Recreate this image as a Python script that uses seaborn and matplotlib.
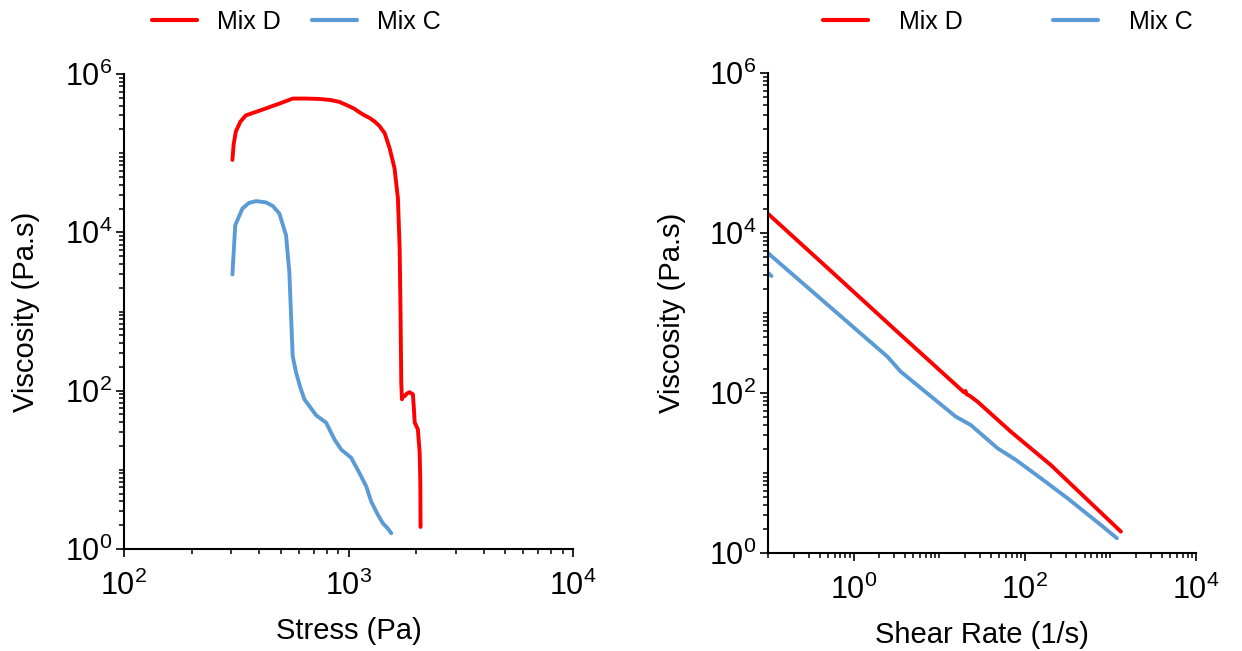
import numpy as np
import pandas as pd
import matplotlib
matplotlib.use("Agg")
import matplotlib.pyplot as plt
import matplotlib.ticker as mticker
import seaborn as sns

# ---- Stress sweep (left) ----
mix_d_stress = [304, 308, 315, 330, 349, 420, 500, 564, 640, 742, 830, 911, 1000,
                1060, 1119, 1180, 1242, 1310, 1374, 1449, 1524, 1603, 1660, 1690, 1706,
                1718, 1730, 1750, 1778, 1820, 1871, 1936, 1955, 1972, 2037, 2075,
                2089, 2094]
mix_d_visc = [82200, 130000, 188000, 250000, 300000, 360000, 430000, 489000, 490000,
              484000, 470000, 444000, 395000, 365000, 328000, 300000, 278000, 250000,
              220000, 179000, 116000, 64600, 26900, 6220, 879, 128, 77.8, 86, 84.9, 92,
              95.5, 89.9, 60, 39.7, 32.4, 16.5, 6.9, 1.9]

mix_c_stress = [304, 313, 337, 360, 387, 429, 460, 492, 527, 545, 564, 584, 610, 636,
                718, 795, 866, 928, 1028, 1119, 1199, 1262, 1352, 1422, 1500, 1551]
mix_c_visc = [2940, 12300, 20000, 23500, 24800, 23900, 21500, 17300, 9180, 3160, 275,
              170, 110, 77.8, 48.8, 39.4, 24.2, 18.0, 14.2, 9.1, 6.2, 3.98, 2.70, 2.12,
              1.8, 1.58]

# ---- Flow curve (right) ----
mix_d_rate = [0.1, 0.5, 3.55, 19.5, 20.3, 21.0, 22.5, 28.0, 68.6, 201, 1327]
mix_d_visc_rate = [17400, 3630, 533, 102, 106, 96, 93, 78.0, 32.9, 12.6, 1.85]

mix_c_rate = [0.11, 0.025, 0.1, 2.48, 3.55, 15.6, 23.3, 48.0, 78.5, 154, 316, 774, 1191]
mix_c_visc_rate = [2900, 12300, 5610, 285, 185, 50.7, 39.9, 20.4, 14.6, 8.6, 4.83,
                   2.24, 1.53]

series_names = ["Mix D", "Mix C"]
colors = {"Mix D": "#FF0000", "Mix C": "#5B9BD5"}

stress_df = pd.concat([
    pd.DataFrame({"x": mix_d_stress, "y": mix_d_visc, "Mix": "Mix D"}),
    pd.DataFrame({"x": mix_c_stress, "y": mix_c_visc, "Mix": "Mix C"}),
], ignore_index=True)
rate_df = pd.concat([
    pd.DataFrame({"x": mix_d_rate, "y": mix_d_visc_rate, "Mix": "Mix D"}),
    pd.DataFrame({"x": mix_c_rate, "y": mix_c_visc_rate, "Mix": "Mix C"}),
], ignore_index=True)

sns.set_theme(style="ticks")
plt.rcParams["font.family"] = ["Liberation Sans", "DejaVu Sans"]
plt.rcParams["mathtext.default"] = "regular"
plt.rcParams["text.color"] = "black"
plt.rcParams["axes.labelcolor"] = "black"
plt.rcParams["xtick.color"] = "black"
plt.rcParams["ytick.color"] = "black"
plt.rcParams["xtick.labelcolor"] = "black"
plt.rcParams["ytick.labelcolor"] = "black"

fig = plt.figure(figsize=(12.42, 6.51), dpi=100)
W, H = 1242, 651
ax1 = fig.add_axes([124 / W, (H - 549) / H, (573 - 124) / W, (549 - 74) / H])
ax2 = fig.add_axes([768 / W, (H - 553) / H, (1196 - 768) / W, (553 - 73) / H])


def style_axis(ax, xlim, xmajor, xlabel, legend_x, textpad, colspace, ylabelpad):
    ax.set_xscale("log")
    ax.set_yscale("log")
    ax.set_xlim(*xlim)
    ax.set_ylim(1, 1e6)
    ax.xaxis.set_major_locator(mticker.FixedLocator(xmajor))
    ax.yaxis.set_major_locator(mticker.FixedLocator([1, 1e2, 1e4, 1e6]))
    ax.xaxis.set_minor_locator(mticker.LogLocator(base=10, subs=np.arange(1, 10), numticks=50))
    ax.yaxis.set_minor_locator(mticker.LogLocator(base=10, subs=np.arange(1, 10), numticks=50))
    ax.xaxis.set_minor_formatter(mticker.NullFormatter())
    ax.yaxis.set_minor_formatter(mticker.NullFormatter())
    ax.xaxis.set_major_formatter(mticker.LogFormatterSciNotation())
    ax.yaxis.set_major_formatter(mticker.LogFormatterSciNotation())
    for side in ("top", "right"):
        ax.spines[side].set_visible(False)
    for side in ("left", "bottom"):
        ax.spines[side].set_linewidth(1.5)
        ax.spines[side].set_color("black")
    ax.tick_params(which="major", direction="out", length=5.5, width=1.2,
                   labelsize=22, color="black", labelcolor="black")
    ax.tick_params(axis="x", which="major", pad=10)
    ax.tick_params(axis="y", which="major", pad=3)
    ax.tick_params(which="minor", direction="out", length=3.5, width=1.1, color="black")
    ax.set_xlabel(xlabel, fontsize=21, labelpad=11, color="black")
    ax.set_ylabel("Viscosity (Pa.s)", fontsize=21, labelpad=ylabelpad, color="black")
    handles, labels = ax.get_legend_handles_labels()
    ax.legend(handles, labels, loc="center", ncol=2, frameon=False, fontsize=18,
              handlelength=1.8, handletextpad=textpad, columnspacing=colspace)
    leg = ax.get_legend()
    leg.set_bbox_to_anchor((legend_x, 1 - 22 / H), transform=fig.transFigure)
    for line in leg.get_lines():
        line.set_linewidth(3)
    for t in leg.get_texts():
        t.set_color("black")


for ax, df in ((ax1, stress_df), (ax2, rate_df)):
    sns.lineplot(data=df, x="x", y="y", hue="Mix", hue_order=series_names,
                 palette=colors, sort=False, estimator=None, linewidth=2.8, ax=ax)

style_axis(ax1, (100, 1e4), [1e2, 1e3, 1e4], "Stress (Pa)", 296 / W, 0.8, 1.25, 18)
style_axis(ax2, (0.1, 1e4), [1, 1e2, 1e4], "Shear Rate (1/s)", 1008 / W, 1.25, 3.6, 16)

fig.savefig("out.png", dpi=100)
